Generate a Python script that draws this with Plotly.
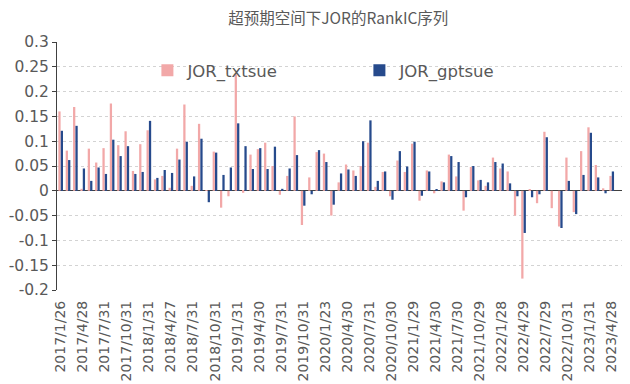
import plotly.graph_objects as go

title_text = "超预期空间下JOR的RankIC序列"

tick_labels = ["2017/1/26", "2017/4/28", "2017/7/31", "2017/10/31", "2018/1/31", "2018/4/27",
               "2018/7/31", "2018/10/31", "2019/1/31", "2019/4/30", "2019/7/31", "2019/10/31",
               "2020/1/23", "2020/4/30", "2020/7/31", "2020/10/30", "2021/1/29", "2021/4/30",
               "2021/7/30", "2021/10/29", "2022/1/28", "2022/4/29", "2022/7/29", "2022/10/31",
               "2023/1/31", "2023/4/28"]

y_tick_vals = [0.3, 0.25, 0.2, 0.15, 0.1, 0.05, 0, -0.05, -0.1, -0.15, -0.2]
y_tick_text = ["0.3", "0.25", "0.2", "0.15", "0.1", "0.05", "0", "-0.05", "-0.1", "-0.15", "-0.2"]

txtsue = [0.160, 0.081, 0.169, 0.004, 0.085, 0.057, 0.086, 0.176, 0.092, 0.120,
          0.040, 0.094, 0.122, 0.023, 0.030, 0.006, 0.085, 0.174, 0.010, 0.135,
          0.001, 0.079, -0.034, -0.011, 0.235, -0.004, 0.073, 0.084, 0.097, 0.050,
          -0.008, 0.030, 0.150, -0.069, 0.027, 0.078, 0.075, -0.050, 0.017, 0.053,
          0.041, 0.050, 0.097, 0.008, 0.038, -0.011, 0.061, 0.038, 0.095, -0.020,
          0.041, -0.005, 0.019, 0.073, 0.029, -0.040, 0.048, 0.021, 0.010, 0.067,
          0.045, 0.039, -0.050, -0.177, 0.002, -0.025, 0.119, -0.035, -0.072, 0.067,
          -0.043, 0.080, 0.128, 0.052, 0.005, 0.030]

gptsue = [0.121, 0.062, 0.131, 0.045, 0.020, 0.047, 0.034, 0.103, 0.070, 0.090,
          0.034, 0.038, 0.141, 0.026, 0.042, 0.036, 0.063, 0.099, 0.029, 0.105,
          -0.023, 0.077, 0.032, 0.047, 0.136, 0.090, 0.044, 0.086, 0.044, 0.089,
          0.004, 0.045, 0.072, -0.030, -0.007, 0.082, 0.058, -0.028, 0.035, 0.043,
          0.030, 0.100, 0.142, 0.020, 0.039, -0.018, 0.080, 0.049, 0.099, -0.010,
          0.039, 0.003, 0.017, 0.070, 0.058, -0.013, 0.050, 0.022, 0.017, 0.058,
          0.055, 0.015, -0.011, -0.085, -0.013, -0.007, 0.108, 0.000, -0.075, 0.020,
          -0.047, 0.032, 0.117, 0.027, -0.005, 0.039]

x_idx = list(range(len(txtsue)))
tick_vals = x_idx[::3]

grey = "#595959"
font_family = "DejaVu Sans, Verdana, sans-serif"

fig = go.Figure()
fig.add_trace(go.Bar(x=x_idx, y=txtsue, name="JOR_txtsue", marker_color="#F2A8A8",
                     marker_line_width=0))
fig.add_trace(go.Bar(x=x_idx, y=gptsue, name="JOR_gptsue", marker_color="#264A8C",
                     marker_line_width=0))

fig.update_layout(
    width=630, height=384,
    margin=dict(l=57, r=8, t=42, b=94),
    paper_bgcolor="white", plot_bgcolor="white",
    barmode="group", bargap=0.35, bargroupgap=0.05,
    font=dict(family=font_family, color=grey, size=13),
    title=dict(text=title_text, x=0.537, xanchor="center", y=0.952, yanchor="middle",
               font=dict(family="Noto Sans CJK SC, sans-serif", size=15.5, color=grey)),
    legend=dict(orientation="h", x=0.16, xanchor="left", y=0.885, yanchor="middle",
                bgcolor="rgba(0,0,0,0)", font=dict(size=16.5, color=grey),
                entrywidth=167, entrywidthmode="pixels", itemwidth=30),
    showlegend=True,
)

fig.update_yaxes(range=[-0.2, 0.3], tickmode="array", tickvals=y_tick_vals, ticktext=y_tick_text,
                 showgrid=True, gridcolor="#D3D3D3", griddash="dot", gridwidth=1,
                 zeroline=True, zerolinecolor="#404040", zerolinewidth=1.2,
                 showline=True, linecolor="#404040", linewidth=1,
                 ticks="outside", ticklen=4, tickcolor="#404040", automargin=False,
                 tickfont=dict(size=15.5, color=grey))

fig.update_xaxes(range=[-0.5, len(txtsue) + 0.4], tickmode="array", tickvals=tick_vals,
                 ticktext=tick_labels, tickangle=-90, showgrid=False, zeroline=False,
                 showline=False, ticks="", automargin=False, ticklabelstandoff=7,
                 tickfont=dict(size=14, color=grey))

fig.write_html("out.html", config={"displayModeBar": False},
               post_script="document.body.style.margin='0';")
